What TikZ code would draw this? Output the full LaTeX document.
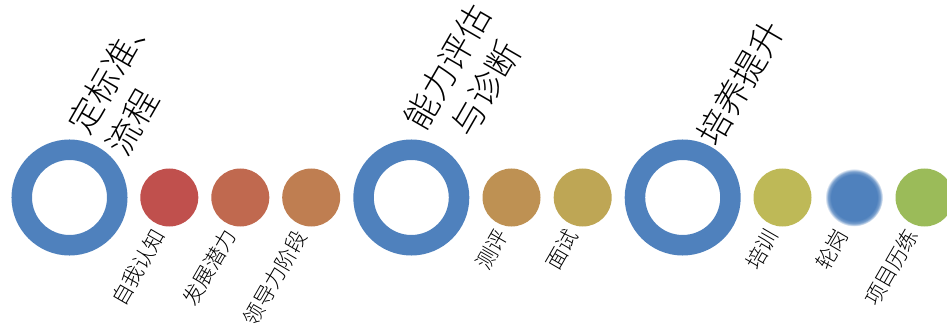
\documentclass[tikz,border=0pt]{standalone}
\usepackage{fontspec}
\setmainfont{Noto Sans CJK SC}[UprightFont=* Light]
\definecolor{ringblue}{RGB}{79,129,189}
\definecolor{cA}{RGB}{192,80,77}
\definecolor{cB}{RGB}{192,105,79}
\definecolor{cC}{RGB}{191,126,81}
\definecolor{cD}{RGB}{190,145,83}
\definecolor{cE}{RGB}{190,166,85}
\definecolor{cF}{RGB}{190,185,87}
\definecolor{cG}{RGB}{155,187,89}
\pgfdeclareradialshading{blurblue}{\pgfpoint{0bp}{0bp}}{color(0bp)=(ringblue); color(20bp)=(ringblue); color(22.5bp)=(ringblue!75!white); color(25bp)=(white); color(50bp)=(white)}
\begin{document}
\begin{tikzpicture}[x=1pt,y=-1pt,
  ring/.style={circle, draw=ringblue, line width=20.5pt, minimum size=95.5pt, inner sep=0pt},
  dot/.style={circle, minimum size=58pt, inner sep=0pt},
  biglabel/.style={rotate=60, font=\fontsize{34}{43.5}\selectfont, inner sep=0pt, anchor=north west},
  smalllabel/.style={rotate=60, font=\fontsize{21}{25}\selectfont, inner sep=0pt, anchor=east}]
\useasboundingbox (0,0) rectangle (947,331);
% big rings
\node[ring] (r1) at (69.5,197.5) {};
\node[ring] (r2) at (411.3,197.5) {};
\node[ring] (r3) at (682.7,197.5) {};
% dots
\node[dot, fill=cA] (d1) at (169.3,197.5) {};
\node[dot, fill=cB] (d2) at (240.3,197.5) {};
\node[dot, fill=cC] (d3) at (311.2,197.5) {};
\node[dot, fill=cD] (d4) at (511.5,197.5) {};
\node[dot, fill=cE] (d5) at (582.7,197.5) {};
\node[dot, fill=cF] (d6) at (782.5,197.5) {};
\node[dot, shading=blurblue] (d7) at (854,197.5) {};
\node[dot, fill=cG] (d8) at (924.5,197.5) {};
% big labels
\node[biglabel, align=left] (t1) at (63.5,122.5) {定标准、\\流程};
\node[biglabel, align=center] (t2) at (400,118) {能力评估\\与诊断};
\node[biglabel] (t3) at (692,134) {培养提升};
% small labels
\node[smalllabel] (l1) at (159.3,231) {自我认知};
\node[smalllabel] (l2) at (230.3,231) {发展潜力};
\node[smalllabel] (l3) at (301.5,232) {领导力阶段};
\node[smalllabel] (l4) at (502.5,231) {测评};
\node[smalllabel] (l5) at (572.5,231) {面试};
\node[smalllabel] (l6) at (772.5,231) {培训};
\node[smalllabel] (l7) at (842.5,231) {轮岗};
\node[smalllabel] (l8) at (912.5,231) {项目历练};
\end{tikzpicture}
\end{document}
